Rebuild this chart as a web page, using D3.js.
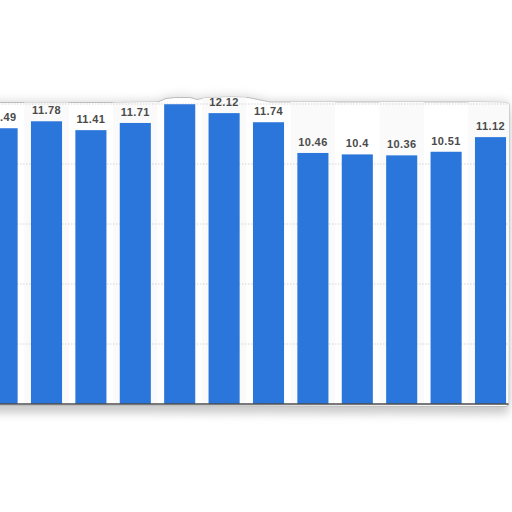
<!DOCTYPE html>
<html>
<head>
<meta charset="utf-8">
<script src="https://cdn.jsdelivr.net/npm/d3@7"></script>
<style>
html,body{margin:0;padding:0;background:#fff;}
svg{display:block;}
</style>
</head>
<body>
<svg id="chart" width="512" height="512"></svg>
<script>
// Data
const categories = ["2008","2009","2010","2011","2012","2013","2014","2015","2016","2017","2018","2019"];
const values = [11.49, 11.78, 11.41, 11.71, 12.49, 12.12, 11.74, 10.46, 10.4, 10.36, 10.51, 11.12];
const labels = ["11.49","11.78","11.41","11.71","12.49","12.12","11.74","10.46","10.4","10.36","10.51","11.12"];
const gridTicks = [2.5, 5, 7.5, 10, 12.5];

const svg = d3.select("#chart");
const W = 512, H = 512;

const x = d3.scaleBand()
  .domain(categories)
  .range([-20.1, -20.1 + 12 * 44.4])
  .paddingInner(0.3)
  .paddingOuter(0.15);

const y = d3.scaleLinear().domain([0, 12.5]).range([404, 104]);

// torn paper outline
const paperPts = [
  [-10, 102.5], [60, 102.5], [120, 102.5], [158, 102], [166, 98.5], [175, 97.5], [190, 97.5], [197, 99.5],
  [205, 98], [230, 97], [248, 97.5], [258, 99.5], [270, 102], [400, 102], [480, 102], [506, 102.5],
  [509, 104], [509, 300], [508.5, 405], [506, 406.5], [300, 406], [150, 405.5], [-10, 405.5]
];
const paperPath = d3.line()(paperPts) + "Z";

const defs = svg.append("defs");
const blur = defs.append("filter").attr("id", "shadow").attr("x", "-10%").attr("y", "-10%").attr("width", "120%").attr("height", "130%");
blur.append("feGaussianBlur").attr("stdDeviation", 4.5);
defs.append("clipPath").attr("id", "paperClip").append("path").attr("d", paperPath);

svg.append("rect").attr("width", W).attr("height", H).attr("fill", "#fff");

// shadows
svg.append("path").attr("d", paperPath)
  .attr("transform", "translate(0,8)")
  .attr("fill", "#a0a0a0").attr("opacity", 0.5).attr("filter", "url(#shadow)");
svg.append("path").attr("d", paperPath)
  .attr("transform", "translate(0,-2)")
  .attr("fill", "#b0b0b0").attr("opacity", 0.45).attr("filter", "url(#shadow)");

// paper
svg.append("path").attr("d", paperPath).attr("fill", "#fff").attr("stroke", "#bdbdbd").attr("stroke-width", 1);

const g = svg.append("g").attr("clip-path", "url(#paperClip)");

// alternating column bands
g.selectAll("rect.band")
  .data(categories.filter((d, i) => i % 2 === 1))
  .join("rect")
  .attr("class", "band")
  .attr("x", d => x(d) - x.step() * x.paddingInner() / 2)
  .attr("width", x.step())
  .attr("y", 90)
  .attr("height", y(0) - 90)
  .attr("fill", "#fafafa");

// gridlines
g.selectAll("line.grid")
  .data(gridTicks)
  .join("line")
  .attr("class", "grid")
  .attr("x1", -10).attr("x2", W)
  .attr("y1", d => y(d)).attr("y2", d => y(d))
  .attr("stroke", "#d6d6d6")
  .attr("stroke-dasharray", "1.5,1.5")
  .attr("stroke-width", 1);

// bars
g.selectAll("rect.bar")
  .data(values)
  .join("rect")
  .attr("class", "bar")
  .attr("x", (d, i) => x(categories[i]))
  .attr("width", x.bandwidth())
  .attr("y", d => y(d))
  .attr("height", d => y(0) - y(d))
  .attr("fill", "#2a76da");

// value labels
g.selectAll("text.lbl")
  .data(values)
  .join("text")
  .attr("class", "lbl")
  .attr("x", (d, i) => x(categories[i]) + x.bandwidth() / 2)
  .attr("y", d => y(d) - 7)
  .attr("text-anchor", "middle")
  .attr("font-family", "Liberation Sans, Arial, sans-serif")
  .attr("font-weight", "bold")
  .attr("font-size", 11)
  .attr("letter-spacing", 0.4)
  .attr("fill", "#4a4a4a")
  .text((d, i) => labels[i]);

// baseline
g.append("line")
  .attr("x1", -10).attr("x2", W)
  .attr("y1", y(0)).attr("y2", y(0))
  .attr("stroke", "#4d4d4d").attr("stroke-width", 1.5);
</script>
</body>
</html>
